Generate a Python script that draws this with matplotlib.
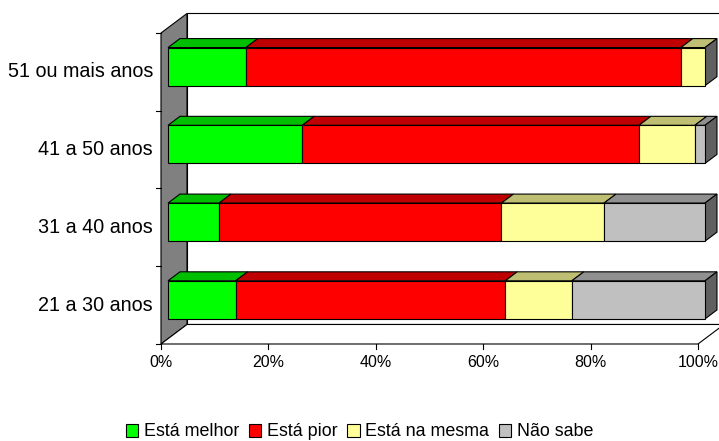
import numpy as np
import matplotlib.pyplot as plt
from matplotlib.patches import Polygon, Patch

# Dados (percentual por faixa etária)
categorias = ['21 a 30 anos', '31 a 40 anos', '41 a 50 anos', '51 ou mais anos']
melhor = [12.6, 9.5, 25.0, 14.5]
pior = [50.2, 52.6, 62.7, 81.0]
mesma = [12.4, 19.1, 10.4, 4.5]
nao_sabe = [24.8, 18.8, 1.9, 0.0]

series = ['Está melhor', 'Está pior', 'Está na mesma', 'Não sabe']
ticks_x = [0, 20, 40, 60, 80, 100]

# Cores: frente, topo (mais escuro)
cor_frente = ['#00FF00', '#FF0000', '#FFFF99', '#C0C0C0']
cor_topo = ['#00BF00', '#BF0000', '#BFBF73', '#909090']
cor_lado = '#606060'

plt.rcParams['font.family'] = ['Liberation Sans', 'DejaVu Sans']

fig = plt.figure(figsize=(7.19, 4.41), dpi=100)
ax = fig.add_axes([0, 0, 1, 1])
ax.set_xlim(-29.98, 103.91)
ax.set_ylim(-1.7476, 3.9244)
ax.axis('off')

# Efeito 3D: deslocamento da profundidade (em unidades de dados)
DX, DY = 4.84, 0.251
f0, f1 = 0.27, 0.73  # frente e fundo das barras dentro da profundidade
h = 0.245            # meia altura da barra
n = len(categorias)
y0, y1 = -0.5, n - 0.5
lw = 0.8

# Parede lateral (cinza), parede do fundo e piso
ax.add_patch(Polygon([(0, y0), (0, y1), (DX, y1 + DY), (DX, y0 + DY)],
                     facecolor='#808080', edgecolor='black', lw=lw, zorder=1))
ax.add_patch(Polygon([(DX, y0 + DY), (DX, y1 + DY), (100 + DX, y1 + DY), (100 + DX, y0 + DY)],
                     facecolor='white', edgecolor='black', lw=lw, zorder=0.5))
ax.add_patch(Polygon([(0, y0), (100, y0), (100 + DX, y0 + DY), (DX, y0 + DY)],
                     facecolor='white', edgecolor='black', lw=lw, zorder=1))

# Barras empilhadas com frente, topo e lado
valores = np.array([melhor, pior, mesma, nao_sabe])
acum = np.vstack([np.zeros(n), np.cumsum(valores, axis=0)])
for i in range(n):
    base = i - h
    topo = i + h
    for s in range(len(series)):
        l, r = acum[s, i], acum[s + 1, i]
        if r - l <= 0:
            continue
        ax.add_patch(Polygon([(l + f0 * DX, topo + f0 * DY), (r + f0 * DX, topo + f0 * DY),
                              (r + f1 * DX, topo + f1 * DY), (l + f1 * DX, topo + f1 * DY)],
                             facecolor=cor_topo[s], edgecolor='black', lw=lw, zorder=3))
        ax.add_patch(Polygon([(l + f0 * DX, base + f0 * DY), (r + f0 * DX, base + f0 * DY),
                              (r + f0 * DX, topo + f0 * DY), (l + f0 * DX, topo + f0 * DY)],
                             facecolor=cor_frente[s], edgecolor='black', lw=lw, zorder=4))
    fim = acum[-1, i]
    ax.add_patch(Polygon([(fim + f0 * DX, base + f0 * DY), (fim + f1 * DX, base + f1 * DY),
                          (fim + f1 * DX, topo + f1 * DY), (fim + f0 * DX, topo + f0 * DY)],
                         facecolor=cor_lado, edgecolor='black', lw=lw, zorder=3))

# Eixo X: marcas e rótulos
for t in ticks_x:
    ax.plot([t, t], [y0, y0 - 0.064], color='black', lw=lw, zorder=2)
    ax.text(t, y0 - 0.14, f'{t}%', ha='center', va='top', fontsize=11.5)

# Eixo Y: marcas e rótulos das categorias
for k in range(n + 1):
    ax.plot([0, -0.93], [y0 + k, y0 + k], color='black', lw=lw, zorder=2)
for i, c in enumerate(categorias):
    ax.text(-1.5, i, c, ha='right', va='center', fontsize=14.2)

# Legenda
handles = [Patch(facecolor=cor_frente[s], edgecolor='black', lw=lw) for s in range(len(series))]
fig.legend(handles, series, loc='center', bbox_to_anchor=(0.5, 1 - 432 / 441), ncol=4,
           frameon=False, fontsize=12.9, handlelength=0.7, handleheight=0.7,
           handletextpad=0.3, columnspacing=0.55, borderpad=0)

fig.savefig('out.png', dpi=100)
